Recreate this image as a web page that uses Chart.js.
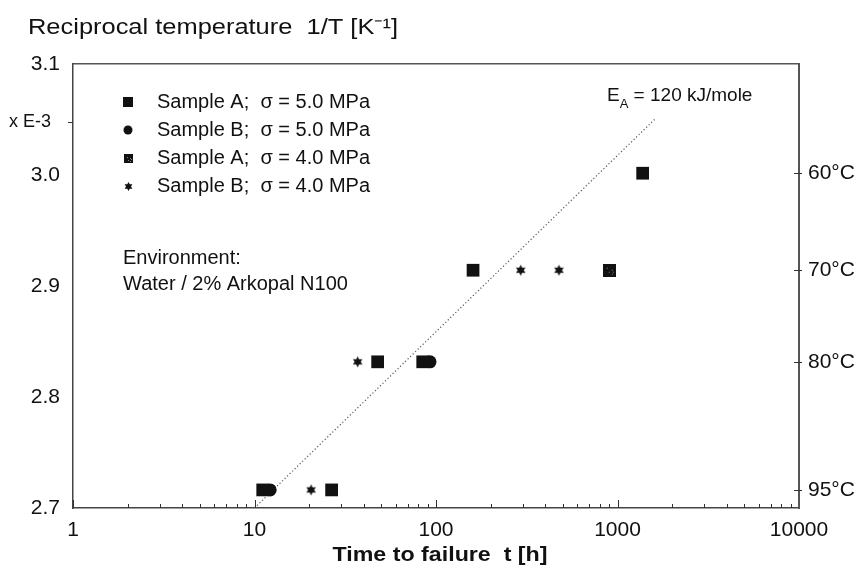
<!DOCTYPE html>
<html>
<head>
<meta charset="utf-8">
<script src="https://cdn.jsdelivr.net/npm/chart.js@4/dist/chart.umd.min.js"></script>
<style>
  html, body { margin: 0; padding: 0; background: #fff; }
</style>
</head>
<body>
<canvas id="arrheniusChart" width="857" height="572"></canvas>
<script>
// Axis ticks
const xTicks = [1, 10, 100, 1000, 10000];
const yTicks = [2.7, 2.8, 2.9, 3.0, 3.1];
const tempLabels = ['60°C', '70°C', '80°C', '95°C'];
const tempValues = [3.0016, 2.9142, 2.8317, 2.7163];

// Sample A, 5.0 MPa (filled squares)
const a50Time = [11.1, 26.6, 47.7, 84.5, 160, 1376];
const a50Inv = [2.7163, 2.7163, 2.8317, 2.8317, 2.9142, 3.0016];
// Sample B, 5.0 MPa (dots)
const b50Time = [12.2, 92.7];
const b50Inv = [2.7163, 2.8317];
// Sample A, 4.0 MPa (mottled squares)
const a40Time = [900];
const a40Inv = [2.9142];
// Sample B, 4.0 MPa (stars)
const b40Time = [20.5, 37, 293, 476];
const b40Inv = [2.7163, 2.8317, 2.9142, 2.9142];
// Activation energy line, 120 kJ/mole
const fitTime = [10, 1600];
const fitInv = [2.7, 3.05];

const toPoints = (xs, ys) => xs.map((x, i) => ({ x: x, y: ys[i] }));

const INK = '#111';
const FONT = "'Liberation Sans', Arial, sans-serif";

// little marker images
function starImage(r) {
  const size = Math.ceil(r * 2 + 2);
  const c = document.createElement('canvas');
  c.width = size; c.height = size;
  const g = c.getContext('2d');
  g.fillStyle = INK;
  g.beginPath();
  for (let i = 0; i < 12; i++) {
    const rad = i % 2 === 0 ? r : r * 0.55;
    const a = -Math.PI / 2 + i * Math.PI / 6;
    const px = size / 2 + rad * Math.cos(a), py = size / 2 + rad * Math.sin(a);
    if (i === 0) g.moveTo(px, py); else g.lineTo(px, py);
  }
  g.closePath();
  g.fill();
  return c;
}

function mottledSquare(s) {
  const c = document.createElement('canvas');
  c.width = s; c.height = s;
  const g = c.getContext('2d');
  g.fillStyle = INK;
  g.fillRect(0, 0, s, s);
  g.fillStyle = '#888';
  const specks = [[0.7, 0.45], [0.75, 0.6], [0.7, 0.75], [0.3, 0.3], [0.45, 0.65]];
  specks.forEach(p => g.fillRect(Math.round(p[0] * s), Math.round(p[1] * s), 1, 1));
  return c;
}

const starBig = starImage(5.5);
const starSmall = starImage(4.5);
const mottledBig = mottledSquare(13);
const mottledSmall = mottledSquare(9);

// text squeezed/stretched to the width it has in the scan
function fitText(c, text, x, y, font, width, align) {
  c.font = font;
  const w = c.measureText(text).width;
  c.save();
  c.translate(x, y);
  c.scale(width / w, 1);
  c.textAlign = align;
  c.fillText(text, 0, 0);
  c.restore();
}

// ticks, legend and labels drawn over the chart
const extras = {
  id: 'extras',
  afterDraw(chart) {
    const { ctx, chartArea: a, scales } = chart;
    const xs = scales.x, ys = scales.y;
    ctx.save();
    ctx.strokeStyle = '#333';
    ctx.lineWidth = 1;

    // inward ticks on the time axis
    ctx.beginPath();
    for (let d = 1; d < 10000; d *= 10) {
      for (let m = 1; m < 10; m++) {
        const px = Math.round(xs.getPixelForValue(d * m)) + 0.5;
        const len = m === 1 ? 8 : 4;
        ctx.moveTo(px, a.bottom);
        ctx.lineTo(px, a.bottom - len);
      }
    }
    // right axis ticks
    tempValues.forEach(v => {
      const py = Math.round(ys.getPixelForValue(v)) + 0.5;
      ctx.moveTo(a.right - 5, py);
      ctx.lineTo(a.right + 3, py);
    });
    // left axis tick next to the exponent
    const pE = Math.round(ys.getPixelForValue(3.048)) + 0.5;
    ctx.moveTo(a.left - 5, pE);
    ctx.lineTo(a.left, pE);
    ctx.stroke();

    ctx.fillStyle = INK;
    ctx.textBaseline = 'middle';

    // title and exponent
    fitText(ctx, 'Reciprocal temperature  1/T [K⁻¹]', 28, 28, '22px ' + FONT, 370, 'left');
    ctx.textAlign = 'right';
    ctx.font = '18px ' + FONT;
    ctx.fillText('x E-3', 51, pE);

    // x axis title
    fitText(ctx, 'Time to failure  t [h]', 440, 555, 'bold 20px ' + FONT, 215, 'center');

    // legend
    const rows = [
      { y: 102, text: 'Sample A;  σ = 5.0 MPa', mark: 'rect' },
      { y: 130, text: 'Sample B;  σ = 5.0 MPa', mark: 'circle' },
      { y: 158, text: 'Sample A;  σ = 4.0 MPa', mark: mottledSmall },
      { y: 186, text: 'Sample B;  σ = 4.0 MPa', mark: starSmall },
    ];
    ctx.textAlign = 'left';
    ctx.font = '20px ' + FONT;
    rows.forEach(r => {
      const mx = 128;
      if (r.mark === 'rect') {
        ctx.fillRect(mx - 5, r.y - 5, 10, 10);
      } else if (r.mark === 'circle') {
        ctx.beginPath();
        ctx.arc(mx, r.y, 4.5, 0, Math.PI * 2);
        ctx.fill();
      } else {
        ctx.drawImage(r.mark, Math.round(mx - r.mark.width / 2), Math.round(r.y - r.mark.height / 2));
      }
      ctx.fillText(r.text, 157, r.y);
    });

    // environment note
    ctx.fillText('Environment:', 123, 258);
    ctx.fillText('Water / 2% Arkopal N100', 123, 284);

    // activation energy label
    ctx.font = '19px ' + FONT;
    ctx.fillText('E', 607, 96);
    const eW = ctx.measureText('E').width;
    ctx.font = '13px ' + FONT;
    ctx.fillText('A', 607 + eW, 104);
    const aW = ctx.measureText('A').width;
    ctx.font = '19px ' + FONT;
    ctx.fillText(' = 120 kJ/mole', 607 + eW + aW, 96);

    ctx.restore();
  }
};

const ctx = document.getElementById('arrheniusChart').getContext('2d');

const data = {
  datasets: [
    {
      label: 'E_A = 120 kJ/mole',
      data: toPoints(fitTime, fitInv),
      showLine: true,
      borderColor: '#555',
      borderWidth: 1.2,
      borderDash: [1.2, 2.3],
      pointRadius: 0,
      order: 5,
    },
    {
      label: 'Sample A; σ = 5.0 MPa',
      data: toPoints(a50Time, a50Inv),
      pointStyle: 'rect',
      pointRadius: 9,
      backgroundColor: INK,
      borderWidth: 0,
    },
    {
      label: 'Sample B; σ = 5.0 MPa',
      data: toPoints(b50Time, b50Inv),
      pointStyle: 'circle',
      pointRadius: 6.5,
      backgroundColor: INK,
      borderWidth: 0,
    },
    {
      label: 'Sample A; σ = 4.0 MPa',
      data: toPoints(a40Time, a40Inv),
      pointStyle: mottledBig,
      pointRadius: 7,
    },
    {
      label: 'Sample B; σ = 4.0 MPa',
      data: toPoints(b40Time, b40Inv),
      pointStyle: starBig,
      pointRadius: 6,
    },
  ],
};

const config = {
  type: 'scatter',
  data,
  options: {
    responsive: false,
    animation: false,
    layout: { padding: 0 },
    plugins: {
      legend: { display: false },
      tooltip: { enabled: false },
    },
    scales: {
      x: {
        type: 'logarithmic',
        position: 'bottom',
        min: 1,
        max: 10000,
        afterBuildTicks: s => { s.ticks = xTicks.map(v => ({ value: v })); },
        afterFit: s => { s.height = 64; },
        ticks: {
          callback: v => String(v),
          color: INK,
          font: { family: FONT, size: 21 },
          padding: 10,
          maxRotation: 0,
          autoSkip: false,
        },
        grid: { display: false, drawTicks: false },
        border: { display: true, color: '#444', width: 1.5 },
      },
      xTop: {
        type: 'logarithmic',
        position: 'top',
        min: 1,
        max: 10000,
        afterFit: s => { s.height = 64; },
        ticks: { display: false },
        grid: { display: false, drawTicks: false },
        border: { display: true, color: '#555', width: 1.5 },
      },
      y: {
        type: 'linear',
        position: 'left',
        min: 2.7,
        max: 3.1,
        afterBuildTicks: s => { s.ticks = yTicks.map(v => ({ value: v })); },
        afterFit: s => { s.width = 73; },
        ticks: {
          callback: v => v.toFixed(1),
          color: INK,
          font: { family: FONT, size: 21 },
          padding: 13,
        },
        grid: { display: false, drawTicks: false },
        border: { display: true, color: '#444', width: 1.5 },
      },
      yRight: {
        type: 'linear',
        position: 'right',
        min: 2.7,
        max: 3.1,
        afterBuildTicks: s => { s.ticks = tempValues.map(v => ({ value: v })); },
        afterFit: s => { s.width = 58; },
        ticks: {
          callback: v => tempLabels[tempValues.indexOf(v)],
          color: INK,
          font: { family: FONT, size: 21 },
          padding: 9,
        },
        grid: { display: false, drawTicks: false },
        border: { display: true, color: '#555', width: 2 },
      },
    },
  },
  plugins: [extras],
};

new Chart(ctx, config);
</script>
</body>
</html>
